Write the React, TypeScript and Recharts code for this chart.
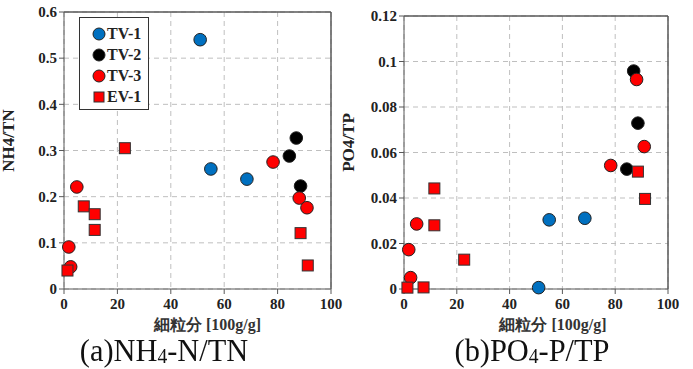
import React from "react"
import {
  ScatterChart,
  Scatter,
  XAxis,
  YAxis,
  CartesianGrid,
  ReferenceLine,
} from "recharts"

// 細粒分 [100g/g] per sample, with NH4/TN and PO4/TP ratios
const tv1Fine = [51, 55, 68.5]
const tv1Nh4 = [0.54, 0.26, 0.238]
const tv1Po4 = [0.0006, 0.0304, 0.0311]

const tv2Fine = [84.4, 87, 88.6]
const tv2Nh4 = [0.288, 0.327, 0.223]
const tv2Po4 = [0.0527, 0.0958, 0.0729]

const tv3Fine = [1.8, 2.5, 4.8, 78.3, 88.1, 91]
const tv3Nh4 = [0.091, 0.048, 0.221, 0.275, 0.197, 0.176]
const tv3Po4 = [0.0173, 0.005, 0.0286, 0.0543, 0.0921, 0.0626]

const ev1Fine = [1.3, 7.4, 11.5, 11.5, 22.8, 88.6, 91.3]
const ev1Nh4 = [0.04, 0.179, 0.162, 0.128, 0.305, 0.121, 0.051]
const ev1Po4 = [0.0006, 0.0007, 0.0442, 0.028, 0.0129, 0.0516, 0.0396]

const xTicks = [0, 20, 40, 60, 80, 100]
const nhTicks = [0, 0.1, 0.2, 0.3, 0.4, 0.5, 0.6]
const poTicks = [0, 0.02, 0.04, 0.06, 0.08, 0.1, 0.12]

const BLUE = "#0070C0"
const RED = "#FF0000"
const BLACK = "#000000"
const AXIS = "#595959"
const SERIF = "'Liberation Serif', 'Times New Roman', 'DejaVu Serif', serif"

const rows = (xs: number[], ys: number[]) => xs.map((x, i) => ({ x, y: ys[i] }))

const Dot = (color: string) => (props: any) => (
  <circle cx={props.cx} cy={props.cy} r={6.3} fill={color} stroke="#222" strokeWidth={1} />
)
const Square = (props: any) => (
  <rect x={props.cx - 5.5} y={props.cy - 5.5} width={11} height={11} fill={RED} stroke="#333" strokeWidth={1} />
)

const tickStyle = { fontFamily: SERIF, fontWeight: 700, fontSize: 15, fill: "#222" }

function Panel({
  ys,
  yTicks,
  yMax,
  yLabel,
  left,
  top,
  width,
  marginRight,
  titleDx,
}: {
  ys: number[][]
  yTicks: number[]
  yMax: number
  yLabel: string
  left: number
  top: number
  width: number
  marginRight: number
  titleDx: number
}) {
  return (
    <div style={{ position: "absolute", left, top: 0 }}>
      <ScatterChart
        width={width}
        height={369}
        margin={{ top, right: marginRight, bottom: 50, left: 0 }}
        style={{ fontFamily: SERIF }}
      >
        <CartesianGrid stroke="#bfbfbf" strokeDasharray="5 4" />
        <XAxis
          type="number"
          dataKey="x"
          domain={[0, 100]}
          ticks={xTicks}
          height={30}
          stroke={AXIS}
          tick={tickStyle}
          tickSize={5}
          tickMargin={4}
          label={{
            value: "細粒分 [100g/g]",
            position: "insideBottom",
            offset: -11,
            dx: titleDx,
            style: { fontFamily: SERIF, fontWeight: 700, fontSize: 16, fill: "#333" },
          }}
        />
        <YAxis
          type="number"
          dataKey="y"
          domain={[0, yMax]}
          ticks={yTicks}
          width={64}
          stroke={AXIS}
          tick={tickStyle}
          tickSize={5}
          label={{
            value: yLabel,
            angle: -90,
            position: "insideLeft",
            offset: 8,
            dy: -10,
            style: { fontFamily: SERIF, fontWeight: 700, fontSize: 17, fill: "#222", textAnchor: "middle" },
          }}
        />
        <ReferenceLine y={yMax} stroke={AXIS} strokeWidth={1.5} />
        <ReferenceLine x={100} stroke={AXIS} strokeWidth={1.5} />
        <Scatter data={rows(tv1Fine, ys[0])} shape={Dot(BLUE)} isAnimationActive={false} />
        <Scatter data={rows(tv2Fine, ys[1])} shape={Dot(BLACK)} isAnimationActive={false} />
        <Scatter data={rows(tv3Fine, ys[2])} shape={Dot(RED)} isAnimationActive={false} />
        <Scatter data={rows(ev1Fine, ys[3])} shape={Square} isAnimationActive={false} />
      </ScatterChart>
    </div>
  )
}

const legendItems = [
  { name: "TV-1", color: BLUE, square: false },
  { name: "TV-2", color: BLACK, square: false },
  { name: "TV-3", color: RED, square: false },
  { name: "EV-1", color: RED, square: true },
]

function LegendBox() {
  return (
    <div
      style={{
        position: "absolute",
        left: 79,
        top: 17,
        width: 70,
        height: 93,
        background: "#fff",
        border: "1.5px solid #333",
        boxSizing: "border-box",
        padding: "5px 0 0 12px",
      }}
    >
      {legendItems.map((it) => (
        <div key={it.name} style={{ display: "flex", alignItems: "center", height: 21 }}>
          <svg width={14} height={14} style={{ marginRight: 1 }}>
            {it.square ? (
              <rect x={2} y={2} width={10} height={10} fill={it.color} stroke="#333" strokeWidth={1} />
            ) : (
              <circle cx={7} cy={7} r={6} fill={it.color} stroke="#222" strokeWidth={1} />
            )}
          </svg>
          <span style={{ fontFamily: SERIF, fontWeight: 700, fontSize: 16, color: "#222" }}>{it.name}</span>
        </div>
      ))}
    </div>
  )
}

const captionStyle: React.CSSProperties = {
  position: "absolute",
  top: 335,
  fontFamily: SERIF,
  fontSize: 31,
  lineHeight: "32px",
  color: "#111",
  whiteSpace: "nowrap",
  transform: "translateX(-50%) scaleX(0.98)",
}

const subStyle: React.CSSProperties = { fontSize: 20, position: "relative", top: 2 }

export default function App() {
  return (
    <div
      style={{
        position: "fixed",
        left: 0,
        top: 0,
        width: 693,
        height: 369,
        background: "#fff",
        fontFamily: SERIF,
      }}
    >
      <Panel
        ys={[tv1Nh4, tv2Nh4, tv3Nh4, ev1Nh4]}
        yTicks={nhTicks}
        yMax={0.6}
        yLabel="NH4/TN"
        left={0}
        top={12}
        width={345}
        marginRight={14}
        titleDx={10}
      />
      <Panel
        ys={[tv1Po4, tv2Po4, tv3Po4, ev1Po4]}
        yTicks={poTicks}
        yMax={0.12}
        yLabel="PO4/TP"
        left={340}
        top={16}
        width={353}
        marginRight={25}
        titleDx={17}
      />
      <LegendBox />
      <div style={{ ...captionStyle, left: 164 }}>
        (a)NH<span style={subStyle}>4</span>-N/TN
      </div>
      <div style={{ ...captionStyle, left: 532 }}>
        (b)PO<span style={subStyle}>4</span>-P/TP
      </div>
    </div>
  )
}
